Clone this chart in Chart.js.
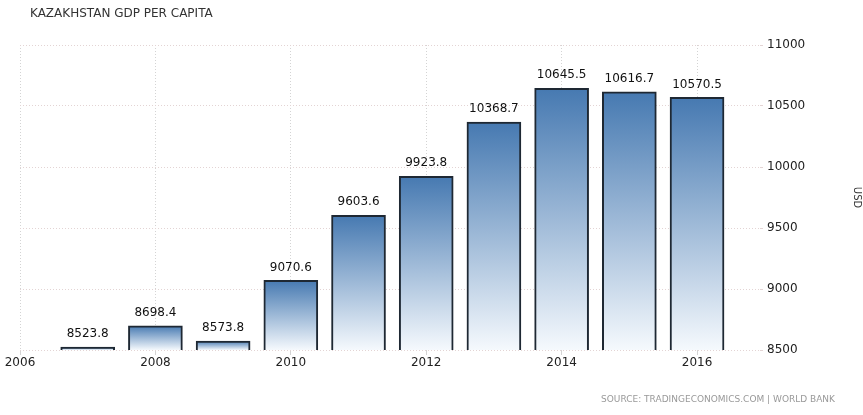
<!DOCTYPE html>
<html>
<head>
<meta charset="utf-8">
<script src="https://cdn.jsdelivr.net/npm/chart.js@4"></script>
<style>
  html, body { margin: 0; padding: 0; background: #fff; }
  #wrap { position: relative; width: 863px; height: 415px; }
</style>
</head>
<body>
<div id="wrap"><canvas id="gdpChart" width="863" height="415"></canvas></div>
<script>
// Kazakhstan GDP per capita (USD)
var years = [2007, 2008, 2009, 2010, 2011, 2012, 2013, 2014, 2015, 2016];
var gdp = [8523.8, 8698.4, 8573.8, 9070.6, 9603.6, 9923.8, 10368.7, 10645.5, 10616.7, 10570.5];
var yTicks = [8500, 9000, 9500, 10000, 10500, 11000];
var xTicks = [2006, 2008, 2010, 2012, 2014, 2016];

var points = [];
for (var i = 0; i < years.length; i++) {
  points.push({ x: years[i], y: gdp[i] });
}

var fontFam = '"DejaVu Sans", Verdana, sans-serif';

// every bar gets its own blue -> white fade
function barGradient(ctx) {
  var chart = ctx.chart;
  if (!chart.chartArea || ctx.dataIndex === undefined) return '#4a7fb5';
  var ys = chart.scales.y;
  var top = ys.getPixelForValue(gdp[ctx.dataIndex]);
  var bottom = ys.getPixelForValue(ys.min);
  if (bottom - top < 1) bottom = top + 1;
  var g = chart.ctx.createLinearGradient(0, top, 0, bottom);
  g.addColorStop(0, '#4679b1');
  g.addColorStop(1, '#f5f9fd');
  return g;
}

var extras = {
  id: 'extras',
  afterDatasetsDraw: function(chart) {
    var ctx = chart.ctx;
    var meta = chart.getDatasetMeta(0);
    ctx.save();
    ctx.font = '12px ' + fontFam;
    ctx.fillStyle = '#111';
    ctx.textAlign = 'center';
    ctx.textBaseline = 'bottom';
    meta.data.forEach(function(bar, i) {
      ctx.fillText(gdp[i].toFixed(1), bar.x, bar.y - 7);
    });
    ctx.restore();
  },
  afterDraw: function(chart) {
    var ctx = chart.ctx;
    ctx.save();
    ctx.fillStyle = '#333';
    ctx.font = '12px ' + fontFam;
    ctx.textBaseline = 'middle';
    ctx.textAlign = 'left';
    ctx.fillText('KAZAKHSTAN GDP PER CAPITA', 30, 14);
    ctx.fillStyle = '#999';
    ctx.font = '9px ' + fontFam;
    ctx.textAlign = 'right';
    ctx.fillText('SOURCE: TRADINGECONOMICS.COM | WORLD BANK', 835, 400);
    ctx.restore();
  }
};

new Chart(document.getElementById('gdpChart'), {
  type: 'bar',
  data: {
    datasets: [{
      data: points,
      backgroundColor: barGradient,
      borderColor: '#1e2833',
      borderWidth: 2,
      barThickness: 54,
      borderSkipped: false
    }]
  },
  plugins: [extras],
  options: {
    responsive: false,
    animation: false,
    layout: { padding: { left: 20, top: 45, right: 0, bottom: 0 } },
    plugins: {
      legend: { display: false },
      tooltip: { enabled: false }
    },
    scales: {
      x: {
        type: 'linear',
        offset: false,
        min: 2006,
        max: 2016.93,
        afterBuildTicks: function(axis) {
          axis.ticks = xTicks.map(function(v) { return { value: v }; });
        },
        afterFit: function(axis) { axis.height = 65; },
        ticks: {
          color: '#222',
          font: { family: fontFam, size: 12 },
          padding: 1,
          maxRotation: 0,
          callback: function(v) { return String(v); }
        },
        grid: {
          offset: false,
          color: '#d4d4d4',
          lineWidth: 1,
          tickLength: 5
        },
        border: { display: false, dash: [1, 2] }
      },
      y: {
        position: 'right',
        min: 8500,
        max: 11000,
        afterBuildTicks: function(axis) {
          axis.ticks = yTicks.map(function(v) { return { value: v }; });
        },
        afterFit: function(axis) { axis.width = 103; },
        ticks: {
          color: '#222',
          font: { family: fontFam, size: 12 },
          padding: 4,
          callback: function(v) { return String(v); }
        },
        grid: {
          color: '#e3d4d4',
          lineWidth: 1,
          tickLength: 3
        },
        border: { display: false, dash: [1, 2] },
        title: {
          display: true,
          text: 'USD',
          color: '#333',
          font: { family: fontFam, size: 10 },
          padding: { top: 0, bottom: 8 }
        }
      }
    }
  }
});
</script>
</body>
</html>
